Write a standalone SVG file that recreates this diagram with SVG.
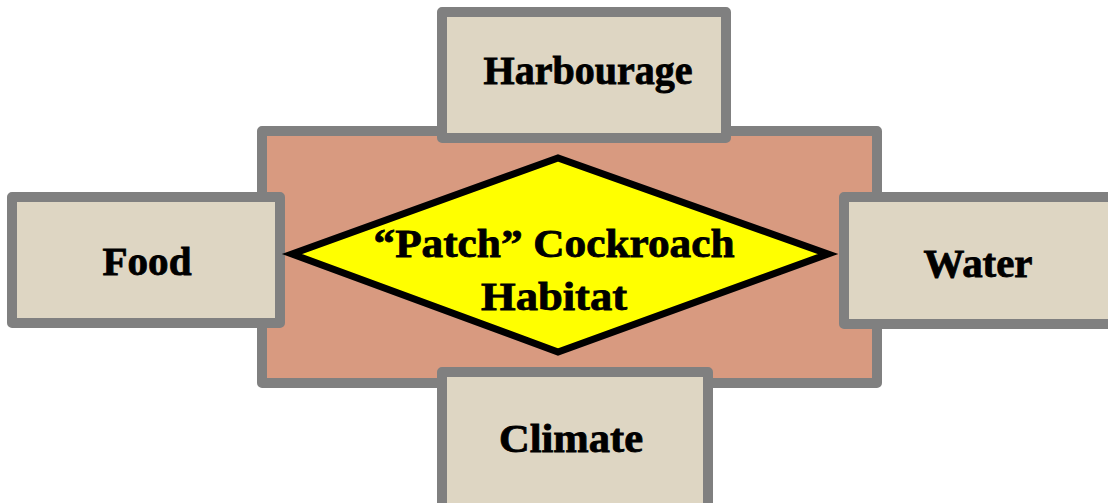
<svg xmlns="http://www.w3.org/2000/svg" width="1108" height="503" viewBox="0 0 1108 503">
<style>
.box{fill:#DED6C3;stroke:#808080;stroke-width:10;stroke-linejoin:round}
.lbl{font-family:"Liberation Serif","Times New Roman",serif;font-weight:bold;font-size:40px;fill:#000;stroke:#000;stroke-width:0.8;text-anchor:middle}
</style>
<rect width="1108" height="503" fill="#ffffff"/>
<g id="habitat-area">
<rect x="262" y="131" width="615" height="252" fill="#D89A80" stroke="#808080" stroke-width="10" stroke-linejoin="round"/>
</g>
<g id="harbourage">
<rect class="box" x="442" y="12" width="284" height="126"/>
<text class="lbl" x="588" y="84" textLength="209" lengthAdjust="spacingAndGlyphs">Harbourage</text>
</g>
<g id="food">
<rect class="box" x="12" y="197" width="268" height="126"/>
<text class="lbl" x="147" y="275" textLength="89" lengthAdjust="spacingAndGlyphs">Food</text>
</g>
<g id="water">
<rect class="box" x="844" y="197" width="270" height="127"/>
<text class="lbl" x="978" y="277" textLength="109" lengthAdjust="spacingAndGlyphs">Water</text>
</g>
<g id="climate">
<rect class="box" x="442" y="372" width="266" height="140"/>
<text class="lbl" x="571" y="452" textLength="144" lengthAdjust="spacingAndGlyphs">Climate</text>
</g>
<g id="patch-habitat">
<polygon points="292,254 558,158 828,254 558,352" fill="#FFFF00" stroke="#000" stroke-width="7" stroke-linejoin="miter"/>
<text class="lbl" x="554" y="257" textLength="361" lengthAdjust="spacingAndGlyphs">“Patch” Cockroach</text>
<text class="lbl" x="554" y="310" textLength="146" lengthAdjust="spacingAndGlyphs">Habitat</text>
</g>
</svg>
